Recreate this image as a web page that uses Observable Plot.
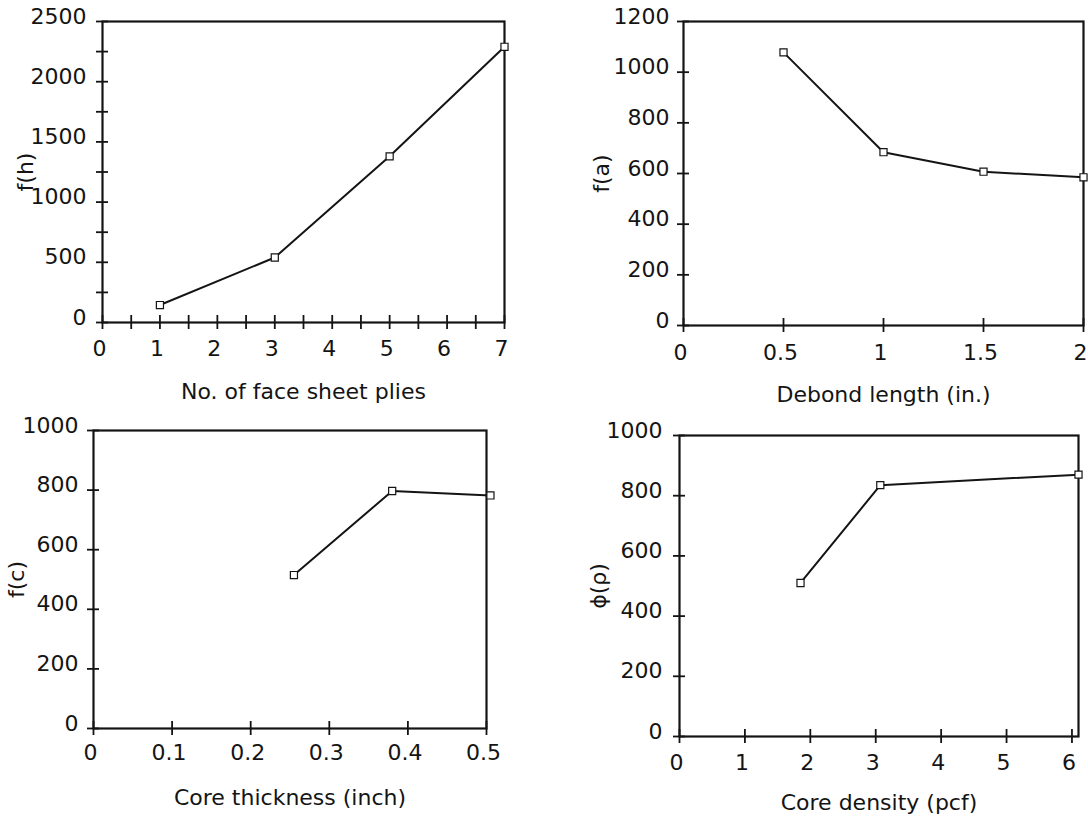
<!DOCTYPE html>
<html>
<head>
<meta charset="utf-8">
<script src="https://cdn.jsdelivr.net/npm/d3@7"></script>
<script src="https://cdn.jsdelivr.net/npm/@observablehq/plot@0.6"></script>
<style>
  body { margin: 0; background: #fff; }
  #wrap { position: relative; width: 1088px; height: 818px; background: #fff; }
  .panel { position: absolute; }
</style>
</head>
<body>
<div id="wrap"></div>
<script>
// ---- Panel 1: No. of face sheet plies vs f(h)
const pliesX = [1, 3, 5, 7];
const pliesY = [145, 540, 1380, 2290];
const pliesXTickMarks = [0, 0.5, 1, 1.5, 2, 2.5, 3, 3.5, 4, 4.5, 5, 5.5, 6, 6.5, 7];
const pliesXTickLabels = [0, 1, 2, 3, 4, 5, 6, 7];
const pliesYTickMarks = [0, 250, 500, 750, 1000, 1250, 1500, 1750, 2000, 2250, 2500];
const pliesYTickLabels = [0, 500, 1000, 1500, 2000, 2500];

// ---- Panel 2: Debond length vs f(a)
const debondX = [0.5, 1, 1.5, 2];
const debondY = [1078, 684, 607, 585];
const debondXTicks = [0, 0.5, 1, 1.5, 2];
const debondYTicks = [0, 200, 400, 600, 800, 1000, 1200];

// ---- Panel 3: Core thickness vs f(c)
const thickX = [0.255, 0.38, 0.505];
const thickY = [515, 797, 782];
const thickXTicks = [0, 0.1, 0.2, 0.3, 0.4, 0.5];
const thickYTicks = [0, 200, 400, 600, 800, 1000];

// ---- Panel 4: Core density vs phi(rho)
const densX = [1.85, 3.07, 6.1];
const densY = [510, 835, 870];
const densXTicks = [0, 1, 2, 3, 4, 5, 6];
const densYTicks = [0, 200, 400, 600, 800, 1000];

const INK = "#141414";
const FONT = "'DejaVu Sans', 'Liberation Sans', Arial, sans-serif";
const FS = 22;

function panel(o) {
  const pw = o.width - o.ml - o.mr;
  const ph = o.height - o.mt - o.mb;
  const data = o.xs.map((x, i) => ({x, y: o.ys[i]}));
  const chart = Plot.plot({
    width: o.width,
    height: o.height,
    marginLeft: o.ml, marginRight: o.mr, marginTop: o.mt, marginBottom: o.mb,
    style: {fontFamily: FONT, fontSize: FS + "px", color: INK, background: "transparent", overflow: "visible"},
    x: {domain: o.xDomain},
    y: {domain: o.yDomain},
    marks: [
      Plot.frame({stroke: INK, strokeWidth: 2.2}),
      Plot.ruleX(o.xTickMarks, {x: d => d, insetTop: ph - 7, insetBottom: -7, stroke: INK, strokeWidth: 1.8}),
      Plot.ruleY(o.yTickMarks, {y: d => d, insetLeft: -6, insetRight: pw - 6, stroke: INK, strokeWidth: 1.8}),
      Plot.axisX(o.xTickLabels, {
        tickSize: 0, tickPadding: o.xPad, tickFormat: d => String(d),
        label: null, fontSize: FS, fill: INK, dx: -3
      }),
      Plot.axisX([], {
        tickSize: 0, label: o.xLabel, labelAnchor: "center", labelOffset: o.xLabelOffset, labelArrow: "none",
        fontSize: FS, fill: INK
      }),
      Plot.axisY(o.yTickLabels, {
        tickSize: 0, tickPadding: o.yPad, tickFormat: d => String(d),
        label: null, fontSize: FS, fill: INK, dy: -5
      }),
      Plot.axisY([], {
        tickSize: 0, label: o.yLabel, labelAnchor: "center", labelOffset: o.yLabelOffset, labelArrow: "none",
        fontSize: FS, fill: INK
      }),
      Plot.line(data, {x: "x", y: "y", stroke: INK, strokeWidth: 2}),
      Plot.dot(data, {x: "x", y: "y", symbol: "square", r: 4, fill: "white", stroke: INK, strokeWidth: 1.2})
    ]
  });
  chart.classList.add("panel");
  chart.style.left = o.left + "px";
  chart.style.top = o.top + "px";
  document.getElementById("wrap").appendChild(chart);
}

panel({
  xs: pliesX, ys: pliesY, xDomain: [0, 7], yDomain: [0, 2500],
  xTickMarks: pliesXTickMarks, xTickLabels: pliesXTickLabels,
  yTickMarks: pliesYTickMarks, yTickLabels: pliesYTickLabels,
  xLabel: "No. of face sheet plies", yLabel: "f(h)",
  left: 0, top: 0, width: 544, height: 409, ml: 102, mr: 40, mt: 21, mb: 87,
  xPad: 18, yPad: 16, xLabelOffset: 76, yLabelOffset: 85
});

panel({
  xs: debondX, ys: debondY, xDomain: [0, 2], yDomain: [0, 1200],
  xTickMarks: debondXTicks, xTickLabels: debondXTicks,
  yTickMarks: debondYTicks, yTickLabels: debondYTicks,
  xLabel: "Debond length (in.)", yLabel: "f(a)",
  left: 544, top: 0, width: 544, height: 409, ml: 139, mr: 5, mt: 21, mb: 84,
  xPad: 19, yPad: 14, xLabelOffset: 76, yLabelOffset: 90
});

panel({
  xs: thickX, ys: thickY, xDomain: [0, 0.5], yDomain: [0, 1000],
  xTickMarks: thickXTicks, xTickLabels: thickXTicks,
  yTickMarks: thickYTicks, yTickLabels: thickYTicks,
  xLabel: "Core thickness (inch)", yLabel: "f(c)",
  left: 0, top: 409, width: 544, height: 409, ml: 93, mr: 58, mt: 21, mb: 90,
  xPad: 16, yPad: 15, xLabelOffset: 76, yLabelOffset: 85
});

panel({
  xs: densX, ys: densY, xDomain: [0, 6.1], yDomain: [0, 1000],
  xTickMarks: densXTicks, xTickLabels: densXTicks,
  yTickMarks: densYTicks, yTickLabels: densYTicks,
  xLabel: "Core density (pcf)", yLabel: "\u03D5(\u03C1)",
  left: 544, top: 409, width: 544, height: 409, ml: 135, mr: 10, mt: 26, mb: 82,
  xPad: 18, yPad: 17, xLabelOffset: 73, yLabelOffset: 89
});
</script>
</body>
</html>
